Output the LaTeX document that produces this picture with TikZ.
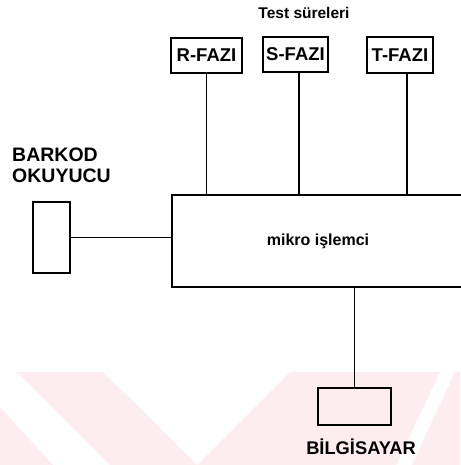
\documentclass[tikz,border=0pt]{standalone}
\usepackage{fontspec}
\setmainfont{Liberation Sans}
\usepackage{xcolor}
\usepackage{tikz}
\usetikzlibrary{positioning}
\definecolor{wmpink}{RGB}{253,236,240}

\begin{document}
\begin{tikzpicture}[x=1pt, y=-1pt,
    box/.style={draw, line width=1.2pt, inner sep=0pt},
    wire/.style={line width=1.2pt},
    lbl/.style={inner sep=0pt, font=\bfseries}]
  \useasboundingbox (0,0) rectangle (460,465);
  % watermark: \fill[wmpink] polygon;
  \fill[wmpink] (0,407) -- (53,465) -- (0,465) -- cycle;
  \fill[wmpink] (17,372) -- (103,372) -- (197,465) -- (110,465) -- cycle;
  \fill[wmpink] (197,465) -- (290,372) -- (440,372) -- (396,465) -- cycle;
  \fill[wmpink] (412,465) -- (455,372) -- (460,372) -- (460,465) -- cycle;

  % boxes
  \node[box, minimum width=292, minimum height=92] (mcu) at (318,241)
    {\fontsize{16}{18}\selectfont\bfseries mikro işlemci};
  \node[box, minimum width=71, minimum height=35] (rfaz) at (206.5,55.5)
    {\fontsize{18.5}{20}\selectfont\bfseries R-FAZI};
  \node[box, minimum width=65, minimum height=35] (sfaz) at (295.5,54.5)
    {\fontsize{18.5}{20}\selectfont\bfseries S-FAZI};
  \node[box, minimum width=66, minimum height=36] (tfaz) at (400,55)
    {\fontsize{18.5}{20}\selectfont\bfseries T-FAZI};
  \node[box, minimum width=37, minimum height=71] (bkod) at (51.5,237.5) {};
  \node[box, minimum width=73, minimum height=37] (pc) at (354.5,406.5) {};

  % labels
  \node[lbl, font=\fontsize{15.5}{17}\selectfont\bfseries] (title) at (304,13) {Test süreleri};
  \node[lbl, anchor=west, align=left, font=\fontsize{19.5}{21}\selectfont\bfseries] (bklbl) at (12,165)
    {BARKOD\\OKUYUCU};
  \node[lbl, font=\fontsize{18.3}{20}\selectfont\bfseries] (pclbl) at (361,447) {BİLGİSAYAR};

  % wires
  \draw[wire] (rfaz.south) -- (rfaz.south |- mcu.north);
  \draw[wire] ([xshift=3.5pt]sfaz.south) -- ([xshift=3.5pt]sfaz.south |- mcu.north);
  \draw[wire] ([xshift=7pt]tfaz.south) -- ([xshift=7pt]tfaz.south |- mcu.north);
  \draw[wire] (bkod.east) -- (bkod.east -| mcu.west);
  \draw[wire] (pc.north) -- (pc.north |- mcu.south);
\end{tikzpicture}
\end{document}
